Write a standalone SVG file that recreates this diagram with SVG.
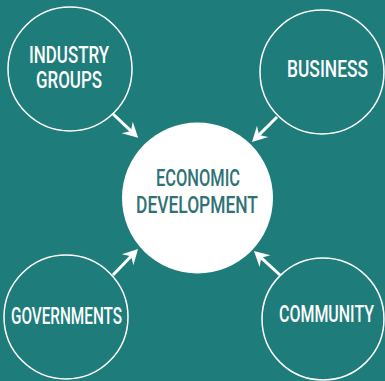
<svg xmlns="http://www.w3.org/2000/svg" width="385" height="381" viewBox="0 0 385 381">
<defs>
<marker id="ah" markerUnits="userSpaceOnUse" markerWidth="30" markerHeight="30" refX="0" refY="0" orient="auto" overflow="visible">
<path d="M10,0 L-5,-8 L0,0 L-5,8 Z" fill="#ffffff"/>
</marker>
<style>
.outer{fill:none;stroke:#ffffff;stroke-width:1.5}
.lbl{font-family:Roboto,"Liberation Sans",sans-serif;font-size:23px;font-weight:500;fill:#ffffff;text-anchor:middle}
.clbl{font-family:Roboto,"Liberation Sans",sans-serif;font-size:23px;font-weight:500;fill:#2f7276;text-anchor:middle}
.conn{stroke:#ffffff;stroke-width:3;fill:none;marker-end:url(#ah)}
</style>
</defs>
<rect width="385" height="381" fill="#1e7c7a"/>
<g id="connectors">
<line class="conn" x1="113" y1="114" x2="130.9" y2="130.9"/>
<line class="conn" x1="277" y1="117" x2="259.1" y2="134.9"/>
<line class="conn" x1="113" y1="275" x2="131.1" y2="256.2"/>
<line class="conn" x1="280" y1="275" x2="261.3" y2="257.8"/>
</g>
<g id="industry-groups">
<circle class="outer" cx="70" cy="69" r="62"/>
<text class="lbl" transform="translate(69,63) scale(0.72,1)" textLength="111.1" lengthAdjust="spacingAndGlyphs">INDUSTRY</text>
<text class="lbl" transform="translate(69,88) scale(0.72,1)" textLength="91.7" lengthAdjust="spacingAndGlyphs">GROUPS</text>
</g>
<g id="business">
<circle class="outer" cx="322" cy="72" r="62"/>
<text class="lbl" transform="translate(327.5,77) scale(0.72,1)" textLength="112.5" lengthAdjust="spacingAndGlyphs">BUSINESS</text>
</g>
<g id="governments">
<circle class="outer" cx="66" cy="317" r="62"/>
<text class="lbl" transform="translate(66.5,324) scale(0.72,1)" textLength="154.2" lengthAdjust="spacingAndGlyphs">GOVERNMENTS</text>
</g>
<g id="community">
<circle class="outer" cx="323" cy="319" r="61"/>
<text class="lbl" transform="translate(326.5,322) scale(0.72,1)" textLength="131.9" lengthAdjust="spacingAndGlyphs">COMMUNITY</text>
</g>
<g id="economic-development">
<circle cx="197.5" cy="198" r="75.5" fill="#ffffff"/>
<text class="clbl" transform="translate(198,186) scale(0.72,1)" textLength="116.7" lengthAdjust="spacingAndGlyphs">ECONOMIC</text>
<text class="clbl" transform="translate(197,213) scale(0.72,1)" textLength="169.4" lengthAdjust="spacingAndGlyphs">DEVELOPMENT</text>
</g>
</svg>
